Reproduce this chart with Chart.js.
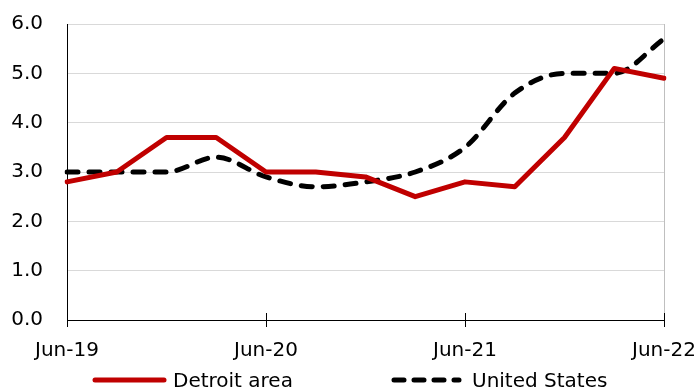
<!DOCTYPE html>
<html>
<head>
<meta charset="utf-8">
<script src="https://cdn.jsdelivr.net/npm/chart.js@4.4.0/dist/chart.umd.min.js"></script>
<style>
  html, body { margin: 0; padding: 0; background: #fff; }
  .wrap { position: relative; width: 700px; height: 389px; }
  #legend { position: absolute; left: 0; top: 369px; width: 700px; height: 22px;
            font: 20px "DejaVu Sans", sans-serif; color: #000; }
  .item { position: absolute; top: 0; height: 22px; display: flex; align-items: center; }
  .item svg { margin-right: 6px; }
</style>
</head>
<body>
<div class="wrap">
  <canvas id="chart" width="700" height="389"></canvas>
  <div id="legend"></div>
</div>
<script>
// quarterly readings, Jun-19 .. Jun-22
const quarters = ['Jun-19', 'Sep-19', 'Dec-19', 'Mar-20', 'Jun-20', 'Sep-20', 'Dec-20',
                  'Mar-21', 'Jun-21', 'Sep-21', 'Dec-21', 'Mar-22', 'Jun-22'];
const detroit = [2.8, 3.0, 3.7, 3.7, 3.0, 3.0, 2.9, 2.5, 2.8, 2.7, 3.7, 5.1, 4.9];
const unitedStates = [3.0, 3.0, 3.0, 3.3, 2.9, 2.7, 2.8, 3.0, 3.5, 4.6, 5.0, 5.0, 5.7];
const seriesNames = ['Detroit area', 'United States'];

const FONT = { family: '"DejaVu Sans", sans-serif', size: 20 };

// excel style cross ticks on the date axis
const crossTicks = {
  id: 'crossTicks',
  afterDraw(chart) {
    const x = chart.scales.x, ctx = chart.ctx, bottom = chart.chartArea.bottom;
    ctx.save();
    ctx.strokeStyle = '#000';
    ctx.lineWidth = 1;
    x.ticks.forEach((t, i) => {
      const px = Math.round(x.getPixelForTick(i)) + 0.5;
      ctx.beginPath();
      ctx.moveTo(px, bottom - 7);
      ctx.lineTo(px, bottom + 7);
      ctx.stroke();
    });
    ctx.restore();
  }
};

const chart = new Chart(document.getElementById('chart'), {
  type: 'line',
  data: {
    labels: quarters,
    datasets: [
      {
        label: seriesNames[0],
        data: detroit,
        borderColor: '#c00000',
        borderWidth: 5,
        borderJoinStyle: 'round',
        borderCapStyle: 'round',
        pointRadius: 0,
        tension: 0
      },
      {
        label: seriesNames[1],
        data: unitedStates,
        borderColor: '#000',
        borderWidth: 5,
        borderDash: [11, 11],
        borderCapStyle: 'round',
        borderJoinStyle: 'round',
        pointRadius: 0,
        cubicInterpolationMode: 'monotone'
      }
    ]
  },
  options: {
    responsive: false,
    animation: false,
    layout: { padding: { top: 24, right: 36, bottom: 26, left: 0 } },
    plugins: { legend: { display: false }, tooltip: { enabled: false } },
    scales: {
      x: {
        afterBuildTicks: s => { s.ticks = s.ticks.filter((t, i) => i % 4 === 0); },
        ticks: { autoSkip: false, maxRotation: 0, color: '#000', font: FONT, padding: 0 },
        grid: {
          color: c => (c.index === 3 ? '#bfbfbf' : 'rgba(0,0,0,0)'),
          tickColor: 'rgba(0,0,0,0)',
          tickLength: 19
        },
        border: { color: '#000', width: 1 }
      },
      y: {
        min: 0,
        max: 6,
        afterFit: s => { s.width = 67; },
        ticks: { stepSize: 1, color: '#000', font: FONT, padding: 0,
                 callback: v => v.toFixed(1) },
        grid: { color: '#d9d9d9', tickColor: 'rgba(0,0,0,0)', tickLength: 24 },
        border: { color: '#000', width: 1 }
      }
    }
  },
  plugins: [crossTicks]
});

// legend built from the dataset styles
const legend = document.getElementById('legend');
const legendLeft = [92, 391];
chart.data.datasets.forEach((ds, i) => {
  const item = document.createElement('div');
  item.className = 'item';
  item.style.left = legendLeft[i] + 'px';
  const dash = ds.borderDash ? ds.borderDash.map(d => d - 1).join(' ') : 'none';
  item.innerHTML =
    '<svg width="75" height="10"><line x1="3" y1="5" x2="' + (i ? 68 : 72) + '" y2="5" stroke="' +
    ds.borderColor + '" stroke-width="' + ds.borderWidth + '" stroke-linecap="round" stroke-dasharray="' +
    dash + '"/></svg><span>' + ds.label + '</span>';
  legend.appendChild(item);
});
</script>
</body>
</html>
